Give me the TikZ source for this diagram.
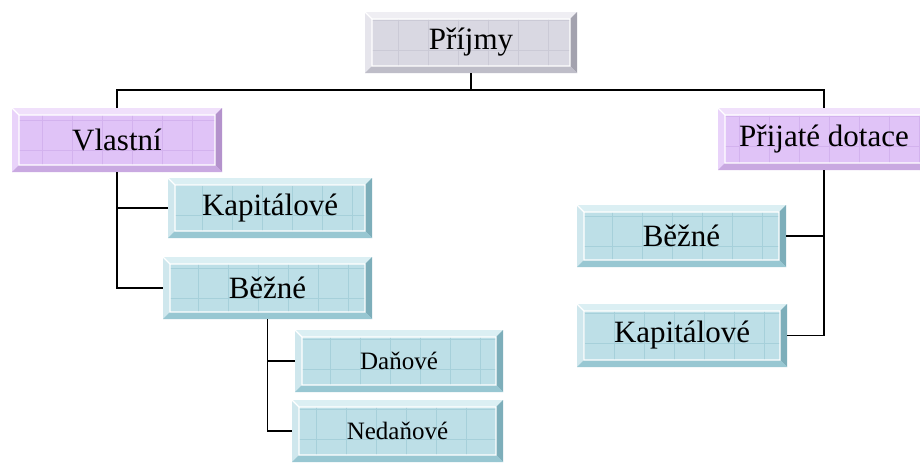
\documentclass[tikz,border=0pt]{standalone}
\usepackage{fontspec}
\setmainfont{Liberation Serif}
\usetikzlibrary{calc}
\definecolor{gF}{HTML}{D9D8E2}\definecolor{gT}{HTML}{EFEEF3}\definecolor{gL}{HTML}{E6E5EC}\definecolor{gR}{HTML}{A3A2AE}\definecolor{gB}{HTML}{BEBDC8}\definecolor{gG}{HTML}{CBCAD6}
\definecolor{pF}{HTML}{E0C3F7}\definecolor{pT}{HTML}{F0E0FB}\definecolor{pL}{HTML}{E9D3FA}\definecolor{pR}{HTML}{B492CC}\definecolor{pB}{HTML}{C9A9E1}\definecolor{pG}{HTML}{D3B2EE}
\definecolor{tF}{HTML}{BDDFE7}\definecolor{tT}{HTML}{DBEFF3}\definecolor{tL}{HTML}{CFE7ED}\definecolor{tR}{HTML}{7DAEBA}\definecolor{tB}{HTML}{98C7D2}\definecolor{tG}{HTML}{A6D0DA}
\newcommand\bevelart[5]{%
 \draw[#5, line width=0.8pt, step=30pt] (path picture bounding box.south west) grid (path picture bounding box.north east);
 \fill[#1] let \p1=(path picture bounding box.south west), \p2=(path picture bounding box.north east) in (\x1,\y2) -- (\x2,\y2) -- (\x2-7pt,\y2-7pt) -- (\x1+7pt,\y2-7pt) -- cycle;
 \fill[#2] let \p1=(path picture bounding box.south west), \p2=(path picture bounding box.north east) in (\x1,\y1) -- (\x1,\y2) -- (\x1+7pt,\y2-7pt) -- (\x1+7pt,\y1+7pt) -- cycle;
 \fill[#3] let \p1=(path picture bounding box.south west), \p2=(path picture bounding box.north east) in (\x2,\y1) -- (\x2,\y2) -- (\x2-7pt,\y2-7pt) -- (\x2-7pt,\y1+7pt) -- cycle;
 \fill[#4] let \p1=(path picture bounding box.south west), \p2=(path picture bounding box.north east) in (\x1,\y1) -- (\x2,\y1) -- (\x2-7pt,\y1+7pt) -- (\x1+7pt,\y1+7pt) -- cycle;
 \draw[white, line width=1.2pt] let \p1=(path picture bounding box.south west), \p2=(path picture bounding box.north east) in (\x1+7pt,\y1+7pt) rectangle (\x2-7pt,\y2-7pt) (\x1,\y2) -- (\x1+7pt,\y2-7pt);
}
\tikzset{
 boxbase/.style={rectangle, inner sep=0pt, text=black, font=\fontsize{31}{33}\selectfont},
 greybox/.style={boxbase, fill=gF, path picture={\bevelart{gT}{gL}{gR}{gB}{gG}}},
 purplebox/.style={boxbase, fill=pF, path picture={\bevelart{pT}{pL}{pR}{pB}{pG}}},
 tealbox/.style={boxbase, fill=tF, path picture={\bevelart{tT}{tL}{tR}{tB}{tG}}},
 smalltext/.style={font=\fontsize{25}{27}\selectfont},
 conn/.style={draw=black, line width=1.6pt}
}
\begin{document}
\begin{tikzpicture}[x=1pt, y=-1pt]
\clip (0,0) rectangle (920,463);
\fill[white] (0,0) rectangle (920,463);
\node[greybox, minimum width=212pt, minimum height=61pt] (P) at (471,42.5) {Příjmy};
\node[purplebox, minimum width=210pt, minimum height=64pt] (V) at (117,140) {Vlastní};
\node[purplebox, minimum width=212pt, minimum height=62pt] (R) at (824,139) {Přijaté dotace};
\node[tealbox, minimum width=204pt, minimum height=60pt] (KL) at (270,208) {Kapitálové};
\node[tealbox, minimum width=209pt, minimum height=62pt] (BL) at (267.5,288) {Běžné};
\node[tealbox, smalltext, minimum width=208pt, minimum height=62pt] (D) at (399,361) {Daňové};
\node[tealbox, smalltext, minimum width=211pt, minimum height=62pt] (N) at (397.5,431) {Nedaňové};
\node[tealbox, minimum width=209pt, minimum height=62pt] (BR) at (681.5,236) {Běžné};
\node[tealbox, minimum width=210pt, minimum height=63pt] (KR) at (682,335.5) {Kapitálové};
\coordinate (hub) at (471,90);
\draw[conn] (P.south) -- (hub);
\draw[conn] (V.north) |- (hub) -| (R.north);
\draw[conn] (V.south) |- (KL.west);
\draw[conn] (V.south) |- (BL.west);
\draw[conn] (BL.south) |- (D.west);
\draw[conn] (BL.south) |- (N.west);
\draw[conn] (R.south) |- (BR.east);
\draw[conn] (R.south) |- (KR.east);
\end{tikzpicture}
\end{document}
